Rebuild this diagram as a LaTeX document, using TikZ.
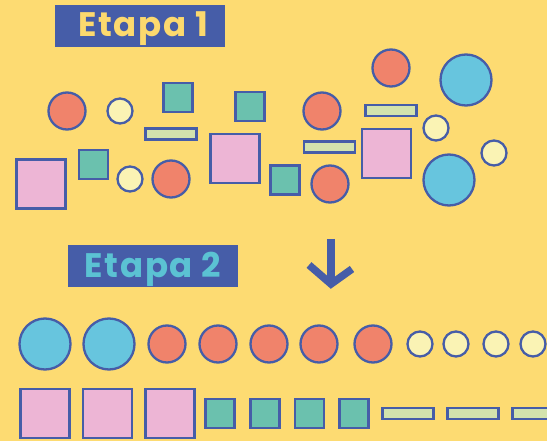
\documentclass[tikz,border=0pt]{standalone}
\usepackage{fontspec}
\setmainfont{Poppins}
\newfontfamily\titlefont[LetterSpace=5]{Poppins}
\definecolor{bg}{HTML}{FDDB72}
\definecolor{ink}{HTML}{465DA8}
\definecolor{redc}{HTML}{F0836B}
\definecolor{creamc}{HTML}{FAF3B4}
\definecolor{tealc}{HTML}{6BC1AE}
\definecolor{limec}{HTML}{D3E3AD}
\definecolor{pinkc}{HTML}{EDB5D5}
\definecolor{bluec}{HTML}{67C5DE}
\definecolor{titleA}{HTML}{FCD96E}
\definecolor{titleB}{HTML}{5BC2D3}
\tikzset{
  shapebase/.style={draw=ink, line width=2.3pt, inner sep=0pt, outer sep=0pt},
  bigdot/.style={shapebase, circle, fill=bluec, minimum size=51pt},
  reddot/.style={shapebase, circle, fill=redc, minimum size=37pt},
  smalldot/.style={shapebase, circle, fill=creamc, minimum size=25pt},
  bigsq/.style={shapebase, rectangle, fill=pinkc, minimum width=49pt, minimum height=49pt},
  smallsq/.style={shapebase, rectangle, fill=tealc, minimum width=29pt, minimum height=29pt},
  bar/.style={shapebase, rectangle, fill=limec, minimum width=51pt, minimum height=11pt},
  titlebox/.style={fill=ink, inner sep=0pt, minimum width=170pt, minimum height=42pt},
  titletext/.style={inner sep=0pt, font=\titlefont\fontsize{34}{34}\selectfont\bfseries},
}
\begin{document}
\begin{tikzpicture}[x=1pt,y=-1pt]
  \fill[bg] (0,0) rectangle (547,441);
  \useasboundingbox (0,0) rectangle (547,441);

  % stage 1: scattered pieces
  \node[titlebox] (t1) at (140,26) {};
  \node[titletext, text=titleA, anchor=base] (t1text) at (143,37) {Etapa 1};

  \node[reddot] (a1) at (67,111) {};
  \node[smalldot] (a2) at (120,111) {};
  \node[smallsq] (a3) at (178,97.5) {};
  \node[smallsq] (a4) at (250,106.5) {};
  \node[bar] (a5) at (171,134) {};
  \node[bigsq] (a6) at (41,184) {};
  \node[smallsq] (a7) at (93.5,164.5) {};
  \node[smalldot] (a8) at (130,179) {};
  \node[reddot] (a9) at (171,179) {};
  \node[bigsq] (a10) at (235,158.5) {};
  \node[smallsq] (a11) at (285,180) {};
  \node[reddot] (a12) at (391,68) {};
  \node[bigdot] (a13) at (466,80) {};
  \node[reddot] (a14) at (322,111) {};
  \node[bar] (a15) at (391,110.5) {};
  \node[smalldot] (a16) at (436,128) {};
  \node[bar] (a17) at (329.5,147) {};
  \node[bigsq] (a18) at (386.5,153.5) {};
  \node[reddot] (a19) at (330,184) {};
  \node[bigdot] (a20) at (449,180) {};
  \node[smalldot] (a21) at (494,153) {};

  % arrow between the stages
  \coordinate (arrTop) at (331,239);
  \coordinate (arrTip) at (331,284);
  \draw[ink, line width=7.5pt] (arrTop) -- (arrTip);
  \draw[ink, line width=7.5pt, miter limit=10] (309,265) -- (arrTip) -- (352,269);

  % stage 2: sorted pieces
  \node[titlebox] (t2) at (153,266) {};
  \node[titletext, text=titleB, anchor=base] (t2text) at (153,277) {Etapa 2};

  \foreach \x [count=\i] in {45,109} \node[bigdot] (b\i) at (\x,344) {};
  \foreach \x [count=\i] in {167,218,269,319,373} \node[reddot] (r\i) at (\x,344) {};
  \foreach \x [count=\i] in {420,456,496,533} \node[smalldot] (c\i) at (\x,344) {};

  \foreach \x [count=\i] in {45,107.5,170} \node[bigsq] (p\i) at (\x,413.5) {};
  \foreach \x [count=\i] in {220,265,309.5,354} \node[smallsq] (g\i) at (\x,413.5) {};
  \foreach \x [count=\i] in {408,473,538} \node[bar] (l\i) at (\x,413.5) {};
\end{tikzpicture}
\end{document}
